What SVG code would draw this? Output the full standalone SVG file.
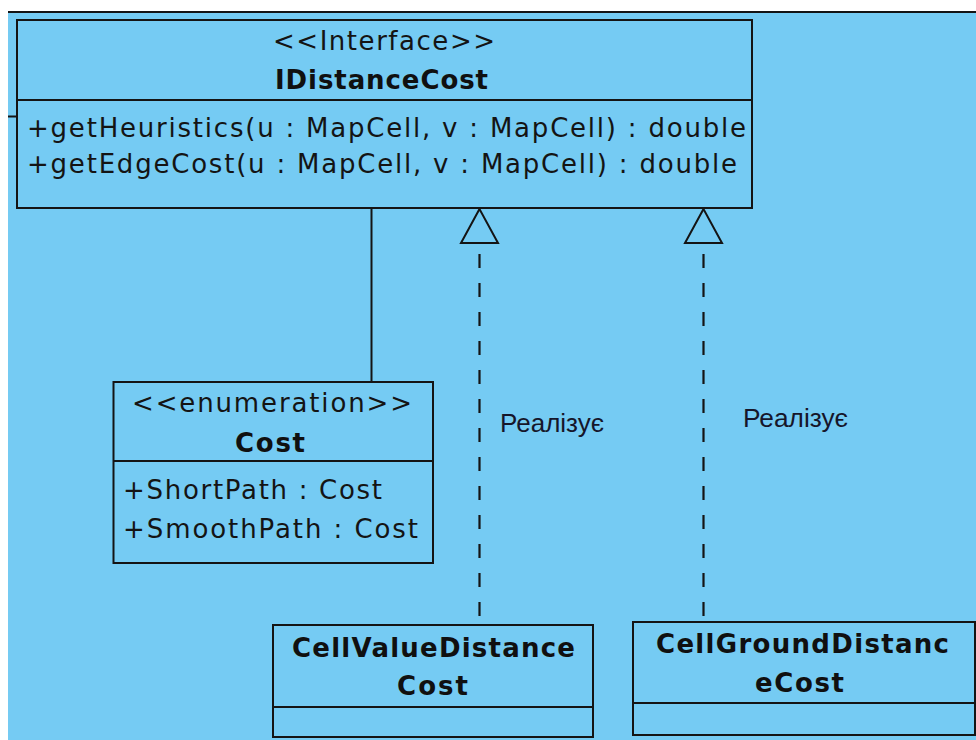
<svg xmlns="http://www.w3.org/2000/svg" width="976" height="740" viewBox="0 0 976 740">
  <style>
    .box { fill: none; stroke: #141414; stroke-width: 2; }
    .sep { stroke: #141414; stroke-width: 2; }
    .txt { font-family: "DejaVu Sans", "Liberation Sans", sans-serif; font-size: 26px; fill: #141414; }
    .name { font-family: "DejaVu Sans", "Liberation Sans", sans-serif; font-size: 26px; font-weight: bold; fill: #101010; }
    .lbl { font-family: "Liberation Sans", Arial, sans-serif; font-size: 25px; fill: #16162a; }
    .assoc { stroke: #141414; stroke-width: 2; fill: none; }
    .real { stroke: #141414; stroke-width: 2.2; fill: none; stroke-dasharray: 14 15; stroke-dashoffset: 18; }
    .head { fill: #75CBF3; stroke: #141414; stroke-width: 2; stroke-linejoin: miter; }
  </style>

  <!-- canvas -->
  <rect x="0" y="0" width="976" height="740" fill="#ffffff"/>
  <rect x="8" y="12" width="968" height="728" fill="#75CBF3"/>
  <line x1="8" y1="12" x2="976" y2="12" stroke="#141414" stroke-width="2"/>
  <line x1="8" y1="116.5" x2="17" y2="116.5" stroke="#141414" stroke-width="2"/>

  <!-- connectors -->
  <g id="connectors">
    <line class="assoc" x1="371.5" y1="208" x2="371.5" y2="382"/>
    <line class="real" x1="479.5" y1="243" x2="479.5" y2="625"/>
    <line class="real" x1="703.5" y1="243" x2="703.5" y2="622"/>
    <polygon class="head" points="479.5,209 461,243 498,243"/>
    <polygon class="head" points="703.5,209 685,243 722,243"/>
    <text class="lbl" x="500" y="432" textLength="104" lengthAdjust="spacingAndGlyphs">Реалізує</text>
    <text class="lbl" x="743" y="427" textLength="105" lengthAdjust="spacingAndGlyphs">Реалізує</text>
  </g>

  <!-- interface IDistanceCost -->
  <g id="IDistanceCost">
    <rect class="box" x="17" y="20" width="735" height="188"/>
    <line class="sep" x1="17" y1="100" x2="752" y2="100"/>
    <text class="txt" x="273" y="50" textLength="222">&lt;&lt;Interface&gt;&gt;</text>
    <text class="name" x="275" y="89" textLength="213">IDistanceCost</text>
    <text class="txt" x="27" y="137" textLength="719">+getHeuristics(u : MapCell, v : MapCell) : double</text>
    <text class="txt" x="27" y="173" textLength="710">+getEdgeCost(u : MapCell, v : MapCell) : double</text>
  </g>

  <!-- enumeration Cost -->
  <g id="Cost">
    <rect class="box" x="113.5" y="382" width="319.5" height="181"/>
    <line class="sep" x1="113.5" y1="461" x2="433" y2="461"/>
    <text class="txt" x="132" y="412" textLength="280">&lt;&lt;enumeration&gt;&gt;</text>
    <text class="name" x="235" y="452" textLength="70">Cost</text>
    <text class="txt" x="123" y="499" textLength="259">+ShortPath : Cost</text>
    <text class="txt" x="123" y="538" textLength="295">+SmoothPath : Cost</text>
  </g>

  <!-- class CellValueDistanceCost -->
  <g id="CellValueDistanceCost">
    <rect class="box" x="273" y="625" width="320" height="112"/>
    <line class="sep" x1="273" y1="707" x2="593" y2="707"/>
    <text class="name" x="292" y="657" textLength="283">CellValueDistance</text>
    <text class="name" x="397" y="695" textLength="71">Cost</text>
  </g>

  <!-- class CellGroundDistanceCost -->
  <g id="CellGroundDistanceCost">
    <rect class="box" x="633" y="622" width="342" height="113"/>
    <line class="sep" x1="633" y1="703" x2="975" y2="703"/>
    <text class="name" x="656" y="653" textLength="293">CellGroundDistanc</text>
    <text class="name" x="755" y="692" textLength="89">eCost</text>
  </g>
</svg>
